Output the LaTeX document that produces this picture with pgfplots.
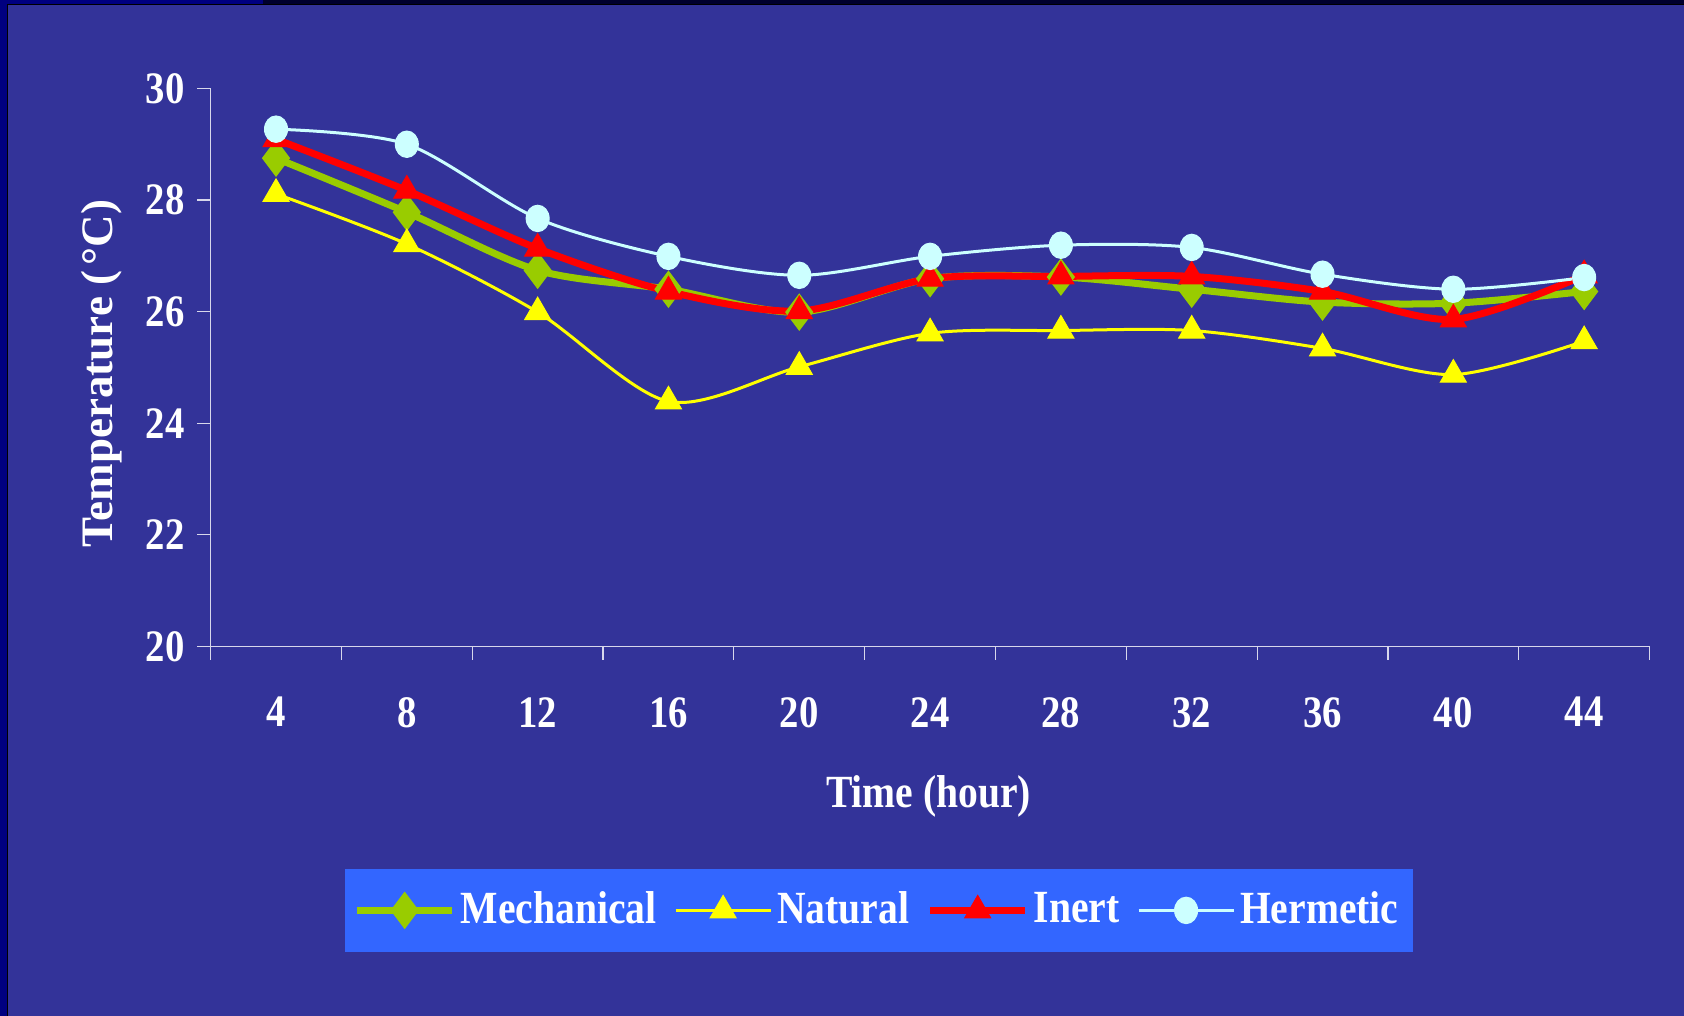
\documentclass[border=0pt]{standalone}
\usepackage{pgfplots}
\pgfplotsset{compat=1.18}
\usepackage{fontspec}
\setmainfont{Liberation Serif}
\newfontfamily\cond{Liberation Serif}[FakeStretch=0.86]
\definecolor{bg}{RGB}{51,51,153}
\definecolor{navyc}{RGB}{0,0,128}
\definecolor{darkc}{RGB}{0,0,45}
\definecolor{legblue}{RGB}{51,102,255}
\definecolor{mgreen}{RGB}{153,204,0}
\definecolor{nyellow}{RGB}{255,255,0}
\definecolor{ired}{RGB}{255,0,0}
\definecolor{hcyan}{RGB}{204,255,255}
\definecolor{axc}{RGB}{215,215,235}
\begin{document}
\begin{tikzpicture}[x=0.01cm,y=0.01cm]
\fill[bg] (0,0) rectangle (1684,1016);
\fill[navyc] (0,0) rectangle (7,1016);
\fill[navyc] (0,1012) rectangle (263,1016);
\fill[darkc] (263,1012) rectangle (1684,1016);
\draw[black, line width=0.01cm] (7.5,0) -- (7.5,1011.5) -- (1684,1011.5);
\begin{axis}[
  at={(2.105cm,3.695cm)}, anchor=south west,
  scale only axis, width=14.381cm, height=5.575cm,
  clip=false,
  xmin=0.5, xmax=11.5, ymin=20, ymax=30,
  axis x line*=bottom, axis y line*=left,
  axis line style={axc, line width=0.015cm},
  every tick/.style={axc, line width=0.012cm},
  tick align=outside,
  major tick length=0.135cm,
  xtick={0.5,1.5,...,11.5},
  xticklabels={},
  extra x ticks={1,...,11},
  extra x tick labels={4,8,12,16,20,24,28,32,36,40,44},
  extra x tick style={tick style={draw=none}, xticklabel style={yshift=-0.25cm}},
  ytick={20,22,...,30},
  /pgf/number format/assume math mode=true,
  tick label style={text=white, font=\cond\bfseries\fontsize{12.8}{14}\selectfont},
  xlabel={Time (hour)},
  xlabel style={at={(axis description cs:0.499,-0.269)}, anchor=center, text=white, font=\cond\bfseries\fontsize{13.1}{15}\selectfont},
  ylabel={Temperature (\hspace{0.12em}°C)},
  ylabel style={at={(axis description cs:-0.0754,0.489)}, anchor=center, text=white, font=\bfseries\fontsize{12.8}{15}\selectfont},
  legend columns=4,
  legend style={fill=legblue, draw=none, at={(axis description cs:0.4642,-0.4735)}, anchor=center,
    text=white, font=\cond\bfseries\fontsize{13.1}{15}\selectfont,
    inner xsep=0.09cm, inner ysep=0.175cm,
    nodes={inner xsep=0.05cm, inner ysep=0.05cm},
    /tikz/every even column/.append style={column sep=0.125cm}},
  legend image code/.code={\draw[mark repeat=2,mark phase=2,#1] plot coordinates {(0cm,0cm) (0.475cm,0cm) (0.95cm,0cm)};},
]
\addplot[mgreen, line width=0.07cm, smooth, tension=0.5, mark=diamond*, mark size=0.18cm, mark options={solid, fill=mgreen, draw=mgreen, line width=0.01cm}]
  coordinates {(1,28.75) (2,27.78) (3,26.74) (4,26.40) (5,25.99) (6,26.59) (7,26.62) (8,26.40) (9,26.17) (10,26.15) (11,26.36)};
\addlegendentry{Mechanical}
\addplot[nyellow, line width=0.03cm, smooth, tension=0.5, mark=triangle*, mark size=0.15cm, mark options={solid, fill=nyellow, draw=nyellow, line width=0.01cm}]
  coordinates {(1,28.11) (2,27.21) (3,25.99) (4,24.39) (5,25.01) (6,25.61) (7,25.66) (8,25.66) (9,25.34) (10,24.87) (11,25.47)};
\addlegendentry{Natural}
\addplot[ired, line width=0.07cm, smooth, tension=0.5, mark=triangle*, mark size=0.15cm, mark options={solid, fill=ired, draw=ired, line width=0.01cm}]
  coordinates {(1,29.09) (2,28.17) (3,27.13) (4,26.36) (5,26.01) (6,26.59) (7,26.63) (8,26.63) (9,26.36) (10,25.86) (11,26.65)};
\addlegendentry{Inert}
\addplot[hcyan, line width=0.03cm, smooth, tension=0.5, mark=*, mark size=0.115cm, mark options={solid, fill=hcyan, draw=hcyan, line width=0.01cm, yscale=1.15}]
  coordinates {(1,29.27) (2,29.00) (3,27.67) (4,26.99) (5,26.65) (6,26.99) (7,27.19) (8,27.15) (9,26.67) (10,26.40) (11,26.61)};
\addlegendentry{Hermetic}
\end{axis}
\pgfresetboundingbox
\path[use as bounding box] (0,0) rectangle (1684,1016);
\end{tikzpicture}
\end{document}
